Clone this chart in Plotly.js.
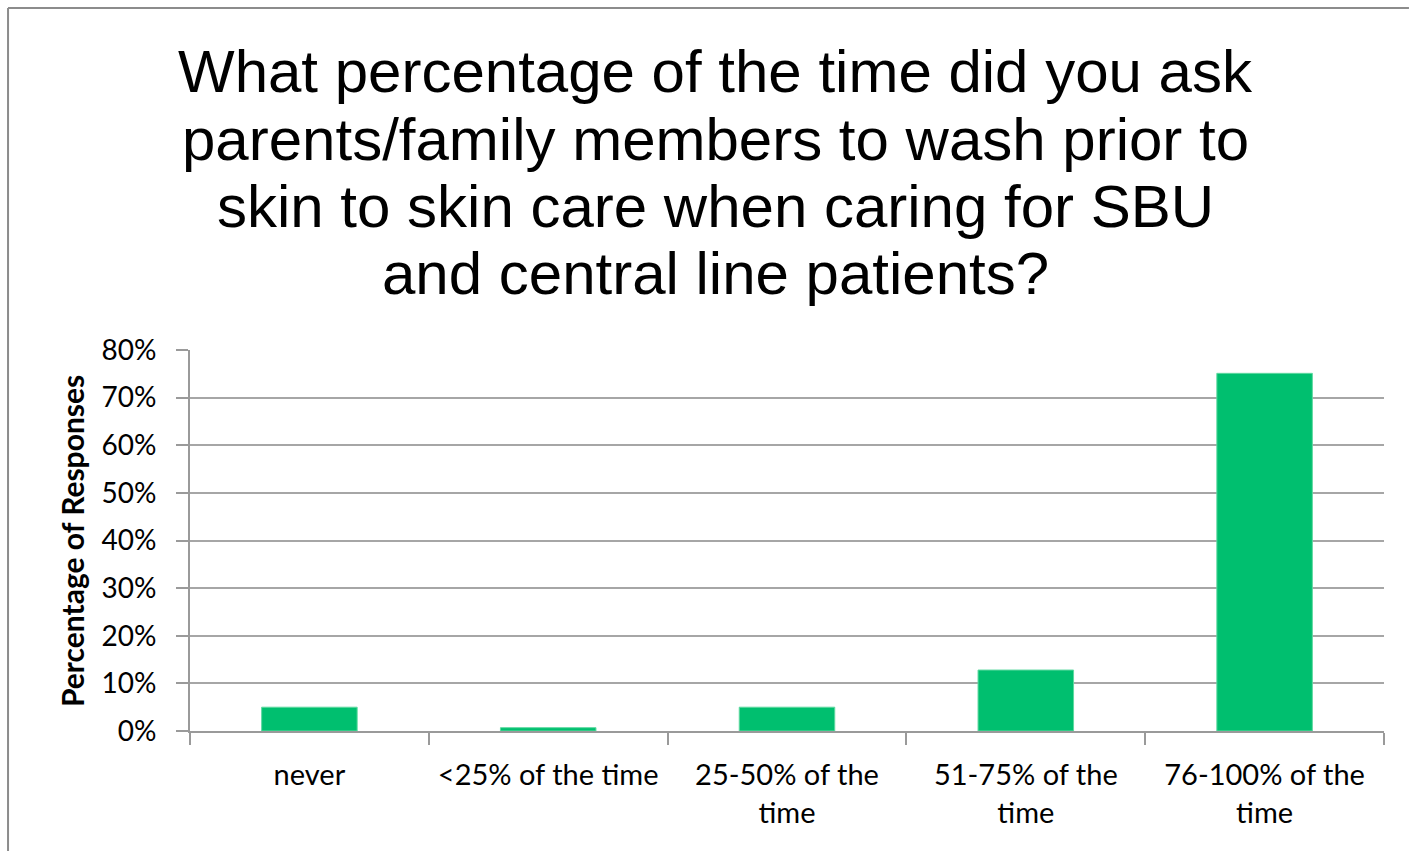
<!DOCTYPE html>
<html>
<head>
<meta charset="utf-8">
<script src="https://cdn.plot.ly/plotly-3.0.1.min.js"></script>
<style>
  html, body { margin: 0; padding: 0; background: #fff; overflow: hidden; }
  #chart { width: 1409px; height: 851px; }
</style>
</head>
<body>
<div id="chart"></div>
<script>
const categories = ["never", "<25% of the time", "25-50% of the<br>time", "51-75% of the<br>time", "76-100% of the<br>time"];
const responses = [5.0, 0.7, 5.0, 12.8, 75.1];
const yTickValues = [0, 10, 20, 30, 40, 50, 60, 70, 80];
const yTickLabels = ["0%", "10%", "20%", "30%", "40%", "50%", "60%", "70%", "80%"];
const titleLines = [
  "What percentage of the time did you ask",
  "parents/family members to wash prior to",
  "skin to skin care when caring for SBU",
  "and central line patients?"
];
const yAxisTitle = "Percentage of Responses";

const titleY = [1.7297, 1.5538, 1.3754, 1.1995];
const annotations = titleLines.map((t, i) => ({
  text: t, xref: "paper", yref: "paper", x: 0.4405, y: titleY[i],
  xanchor: "center", yanchor: "middle", showarrow: false,
  font: { family: "Liberation Sans, Arial, sans-serif", size: 60, color: "#000" }
}));
annotations.push({
  text: "<b>" + yAxisTitle + "</b>", xref: "paper", yref: "paper",
  x: -0.0988, y: 0.4987, xanchor: "center", yanchor: "middle",
  textangle: -90, showarrow: false,
  font: { family: "Lato, Carlito, Calibri, sans-serif", size: 30, color: "#000" }
});

const trace = {
  type: "bar",
  x: categories,
  y: responses,
  marker: { color: "#00bf6f", line: { color: "#5fd9a0", width: 1 } },
  hoverinfo: "x+y"
};

const layout = {
  width: 1409, height: 851,
  margin: { l: 190, r: 25, t: 350, b: 120 },
  paper_bgcolor: "#ffffff", plot_bgcolor: "#ffffff",
  showlegend: false,
  bargap: 0.6,
  font: { family: "Lato, Carlito, Calibri, sans-serif", color: "#000" },
  xaxis: {
    type: "category",
    showline: true, linecolor: "#9a9a9a", linewidth: 2,
    ticks: "outside", tickson: "boundaries", ticklen: 12, tickcolor: "#9a9a9a", tickwidth: 2,
    ticklabelstandoff: 17,
    tickfont: { family: "Lato, Carlito, Calibri, sans-serif", size: 29, color: "#000" },
    showgrid: false, fixedrange: true
  },
  yaxis: {
    range: [0, 80], tickmode: "array", tickvals: yTickValues, ticktext: yTickLabels,
    showline: true, linecolor: "#9a9a9a", linewidth: 2,
    ticks: "outside", ticklen: 12, tickcolor: "#9a9a9a", tickwidth: 2,
    ticklabelstandoff: 14,
    showgrid: true, gridcolor: "#a6a6a6", gridwidth: 2,
    zeroline: false,
    tickfont: { family: "Lato, Carlito, Calibri, sans-serif", size: 28, color: "#000" },
    fixedrange: true
  },
  annotations: annotations,
  shapes: [
    { type: "line", xref: "paper", yref: "paper", x0: -0.1524, x1: -0.1524, y0: -0.315, y1: 1.8976,
      line: { color: "#8c8c8c", width: 2 } },
    { type: "line", xref: "paper", yref: "paper", x0: -0.1524, x1: 1.0209, y0: 1.8976, y1: 1.8976,
      line: { color: "#8c8c8c", width: 2 } }
  ]
};

Plotly.newPlot("chart", [trace], layout, { displayModeBar: false, staticPlot: true });
</script>
</body>
</html>
